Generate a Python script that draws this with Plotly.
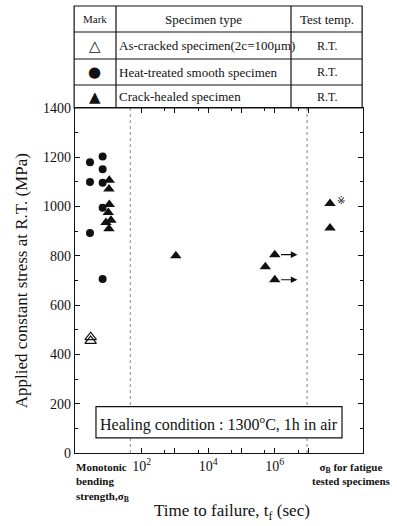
import plotly.graph_objects as go
import math

# ---------------- data ----------------
# Monotonic bending strength (left section of the axis)
mono_heat_treated_a = [1180, 1100, 893]
mono_heat_treated_b = [1203, 1151, 1097, 995, 706]
mono_crack_healed = [1107, 1071, 1008, 976, 944, 935, 910]
mono_as_cracked = [470, 455]

# Fatigue tests at constant stress (middle, log time section)
fatigue_time_s = [1.07e3, 1.0e6, 5.2e5, 1.0e6]
fatigue_stress = [800, 805, 756, 703]
fatigue_runout = [False, True, False, True]

# Bending strength of fatigue-tested specimens (right section)
post_fatigue_strength = [1012, 913]

y_ticks = [0, 200, 400, 600, 800, 1000, 1200, 1400]
x_major_ticks = [1e2, 1e3, 1e4, 1e5, 1e6, 1e7]
x_tick_text = ["10<sup>2</sup>", "", "10<sup>4</sup>", "", "10<sup>6</sup>", ""]
x_minor_ticks = [5e2, 5e3, 5e4, 5e5, 5e6]

legend_rows = [
    ("△", "As-cracked specimen(2c=100μm)", "R.T."),
    ("●", "Heat-treated smooth specimen", "R.T."),
    ("▲", "Crack-healed specimen", "R.T."),
]

# ---------------- layout constants (axis positions of the sections, log10 units) ----------------
X_RANGE = [0, 8.65]
MONO_COL_A = 10 ** 0.45
MONO_COL_B = 10 ** 0.83
MONO_COL_C = [10 ** v for v in (1.03, 1.02, 1.03, 1.0, 1.08, 0.93, 1.02)]
MONO_COL_OPEN = 10 ** 0.47
POST_COL = 10 ** 7.66
DIV_LEFT = 1.66
DIV_RIGHT = 6.97
BOX_X = (0.63, 8.02)

SERIF = "Liberation Serif, Times New Roman, serif"
BLACK = "#111111"

fig = go.Figure()

tri = dict(symbol="triangle-up", size=10, color=BLACK)
circ = dict(symbol="circle", size=8, color=BLACK)

fig.add_trace(go.Scatter(x=[MONO_COL_A] * len(mono_heat_treated_a), y=mono_heat_treated_a,
                         mode="markers", marker=circ, showlegend=False))
fig.add_trace(go.Scatter(x=[MONO_COL_B] * len(mono_heat_treated_b), y=mono_heat_treated_b,
                         mode="markers", marker=circ, showlegend=False))
fig.add_trace(go.Scatter(x=MONO_COL_C, y=mono_crack_healed,
                         mode="markers", marker=tri, showlegend=False))
fig.add_trace(go.Scatter(x=[MONO_COL_OPEN] * len(mono_as_cracked), y=mono_as_cracked,
                         mode="markers",
                         marker=dict(symbol="triangle-up-open", size=10, color=BLACK,
                                     line=dict(width=1.2, color=BLACK)),
                         showlegend=False))
fig.add_trace(go.Scatter(x=fatigue_time_s, y=fatigue_stress,
                         mode="markers", marker=tri, showlegend=False))
fig.add_trace(go.Scatter(x=[POST_COL] * len(post_fatigue_strength), y=post_fatigue_strength,
                         mode="markers", marker=tri, showlegend=False))

annotations = []
shapes = []

# run-out arrows
for t, s, r in zip(fatigue_time_s, fatigue_stress, fatigue_runout):
    if r:
        lt = math.log10(t)
        annotations.append(dict(x=lt + 0.68, y=s, ax=lt + 0.14, ay=s,
                                xref="x", yref="y", axref="x", ayref="y",
                                text="", showarrow=True, arrowhead=2, arrowsize=1.1,
                                arrowwidth=1.2, arrowcolor=BLACK))

# ※ mark next to the first post-fatigue point
annotations.append(dict(x=math.log10(POST_COL) + 0.15, y=post_fatigue_strength[0] + 14,
                        xref="x", yref="y", text="※", showarrow=False,
                        font=dict(family="DejaVu Sans", size=10, color=BLACK),
                        xanchor="left", yanchor="middle"))

# dotted section dividers
for xv in (DIV_LEFT, DIV_RIGHT):
    shapes.append(dict(type="line", xref="x", yref="y", x0=10 ** xv, x1=10 ** xv,
                       y0=0, y1=1400,
                       line=dict(color="#888888", width=1, dash="dot"), layer="below"))

# healing condition box
shapes.append(dict(type="rect", xref="x", yref="y", x0=10 ** BOX_X[0], x1=10 ** BOX_X[1],
                   y0=61, y1=188,
                   line=dict(color=BLACK, width=1.2), fillcolor="white", layer="above"))
annotations.append(dict(x=(BOX_X[0] + BOX_X[1]) / 2, y=120, xref="x", yref="y",
                        text="Healing condition : 1300<sup>o</sup>C, 1h in air",
                        showarrow=False, xanchor="center", yanchor="middle",
                        font=dict(family=SERIF, size=16, color=BLACK)))

# ---------------- legend table above the plot ----------------
PLOT_H = 345.0
PLOT_W = 288.0
def py(px_from_plot_top):
    return 1 + px_from_plot_top / PLOT_H

table_top = py(102)
row_lines = [py(76), py(49), py(23)]
col_lines = [41 / PLOT_W, 216 / PLOT_W]
tl = dict(color=BLACK, width=1.2)
shapes.append(dict(type="rect", xref="paper", yref="paper", x0=-0.003, x1=0.997,
                   y0=1, y1=table_top, line=tl))
for yl in row_lines:
    shapes.append(dict(type="line", xref="paper", yref="paper", x0=-0.003, x1=0.997,
                       y0=yl, y1=yl, line=tl))
for xl in col_lines:
    shapes.append(dict(type="line", xref="paper", yref="paper", x0=xl, x1=xl,
                       y0=1, y1=table_top, line=tl))

tfont = dict(family=SERIF, size=13, color=BLACK)
row_bounds = [table_top] + row_lines + [1]
headers = [("Mark", 11), ("Specimen type", 13), ("Test temp.", 13)]
col_centers = [col_lines[0] / 2 - 0.002, (col_lines[0] + col_lines[1]) / 2,
               (col_lines[1] + 0.997) / 2]
for c, (h, fs) in zip(col_centers, headers):
    annotations.append(dict(x=c, y=(row_bounds[0] + row_bounds[1]) / 2, xref="paper",
                            yref="paper", text=h, showarrow=False,
                            font=dict(family=SERIF, size=fs, color=BLACK),
                            xanchor="center", yanchor="middle"))
for i, (sym, name, temp) in enumerate(legend_rows):
    yc = (row_bounds[i + 1] + row_bounds[i + 2]) / 2
    annotations.append(dict(x=col_centers[0], y=yc, xref="paper", yref="paper", text=sym,
                            showarrow=False, xanchor="center", yanchor="middle",
                            font=dict(family="DejaVu Sans", size=15, color=BLACK)))
    annotations.append(dict(x=col_lines[0] + 0.003, y=yc, xref="paper", yref="paper",
                            text=name, showarrow=False, xanchor="left", yanchor="middle",
                            font=tfont))
    annotations.append(dict(x=col_centers[2], y=yc, xref="paper", yref="paper",
                            text=temp, showarrow=False, xanchor="center",
                            yanchor="middle", font=dict(family=SERIF, size=12, color=BLACK)))

# ---------------- axis texts ----------------
lab_font = dict(family=SERIF, size=11, color=BLACK)
annotations.append(dict(x=-0.005, y=-0.018, xref="paper", yref="paper",
                        text="<b>Monotonic<br>bending<br>strength,σ<sub>B</sub></b>",
                        showarrow=False, xanchor="left", yanchor="top", align="left",
                        font=lab_font))
annotations.append(dict(x=1.104, y=-0.018, xref="paper", yref="paper",
                        text="<b>σ<sub>B</sub> for fatigue<br>tested specimens</b>",
                        showarrow=False, xanchor="right", yanchor="top", align="center",
                        font=lab_font))
annotations.append(dict(x=0.545, y=-0.17, xref="paper", yref="paper",
                        text="Time to failure, t<sub>f</sub> (sec)", showarrow=False,
                        xanchor="center", yanchor="middle",
                        font=dict(family=SERIF, size=17, color=BLACK)))
annotations.append(dict(x=-0.185, y=0.5, xref="paper", yref="paper", textangle=-90,
                        text="Applied constant stress at R.T. (MPa)", showarrow=False,
                        xanchor="center", yanchor="middle",
                        font=dict(family=SERIF, size=17, color=BLACK)))

fig.update_layout(
    width=397, height=526,
    margin=dict(l=75, r=34, t=108, b=73),
    paper_bgcolor="white", plot_bgcolor="white",
    shapes=shapes, annotations=annotations,
    font=dict(family=SERIF, color=BLACK),
)
fig.update_xaxes(type="log", range=X_RANGE, showgrid=False, zeroline=False,
                 showline=True, linecolor=BLACK, linewidth=1.2, mirror="ticks",
                 ticks="inside", ticklen=5, tickcolor=BLACK,
                 tickvals=x_major_ticks, ticktext=x_tick_text,
                 tickfont=dict(family=SERIF, size=14, color=BLACK),
                 minor=dict(tickvals=x_minor_ticks, ticks="inside", ticklen=3,
                            tickcolor=BLACK, showgrid=False))
fig.update_yaxes(range=[0, 1400], showgrid=False, zeroline=False,
                 showline=True, linecolor=BLACK, linewidth=1.2, mirror="ticks",
                 ticks="inside", ticklen=5, tickcolor=BLACK,
                 tickvals=y_ticks,
                 tickfont=dict(family=SERIF, size=14, color=BLACK),
                 minor=dict(dtick=100, ticks="inside", ticklen=3, tickcolor=BLACK,
                            showgrid=False))

fig.write_html("out.html", config={"displayModeBar": False},
               post_script="document.body.style.margin='0';")
